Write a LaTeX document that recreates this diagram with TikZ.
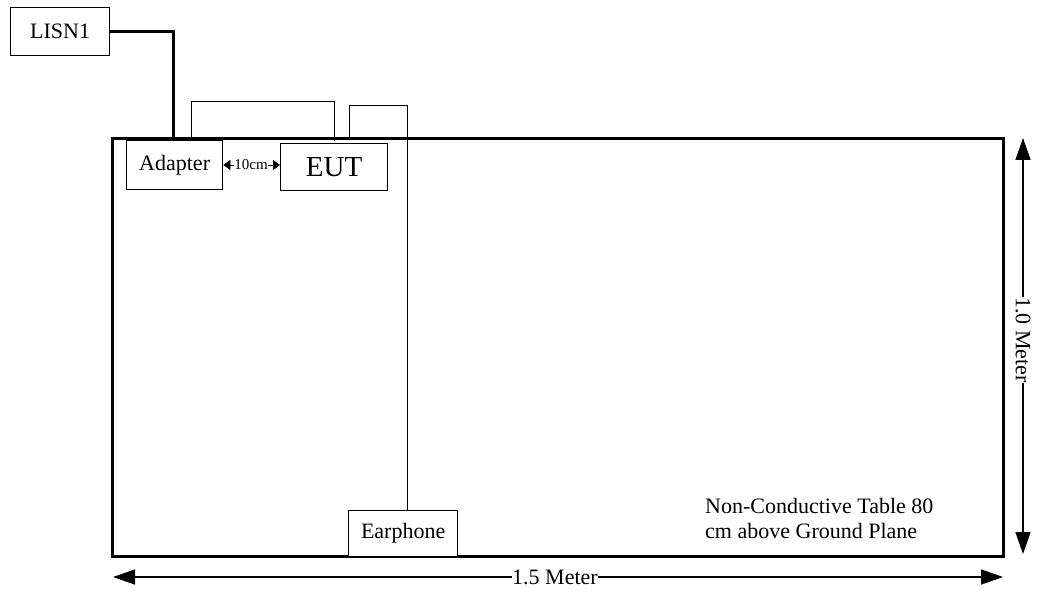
\documentclass[tikz,border=0pt]{standalone}
\usepackage{fontspec}
\setmainfont{Liberation Serif}
\usetikzlibrary{arrows.meta}
\begin{document}
\begin{tikzpicture}[x=1pt,y=-1pt,
  box/.style={draw,line width=1.3pt,inner sep=0pt,anchor=north west},
  thick wire/.style={line width=3pt},
  thin wire/.style={line width=0.9pt},
  big arrow/.style={line width=1.5pt,{Triangle[length=22pt,width=15pt]}-{Triangle[length=22pt,width=15pt]}},
  txt/.style={font=\fontsize{22}{25}\selectfont}]
\useasboundingbox (0,0) rectangle (1039,593);
% table
\draw[line width=3pt] (112,139) rectangle (1003,556);
% boxes
\node[box,minimum width=99pt,minimum height=48pt,txt] (lisn) at (10,7) {LISN1};
\node[box,minimum width=96pt,minimum height=49pt,txt,fill=white] (adapter) at (126,140) {Adapter};
\node[box,minimum width=107pt,minimum height=47pt,font=\fontsize{29}{32}\selectfont,fill=white] (eut) at (280,143) {EUT};
\node[box,minimum width=109pt,minimum height=46pt,txt,fill=white] (ear) at (348,510) {Earphone};
% LISN cable
\coordinate (c1) at (173,32);
\coordinate (c2) at (407,105);
\draw[thick wire] (lisn.east |- c1) -- (c1) -- (173,139);
% adapter-EUT cable
\draw[thin wire] (191,139) -- (191,101) -- (334,101) -- (334,141);
% earphone cable
\draw[thin wire] (349,139) -- (349,105) -- (c2) -- (c2 |- ear.north);
% 10 cm
\node[font=\fontsize{15}{17}\selectfont,inner sep=0pt] (ten) at (251,165) {10cm};
\draw[line width=0.6pt,-{Triangle[length=7pt,width=10pt]}] (ten.west) -- (adapter.east |- ten.west);
\draw[line width=0.6pt,-{Triangle[length=7pt,width=10pt]}] (ten.east) -- (eut.west |- ten.east);
% 1.5 meter
\coordinate (h1) at (113,577);
\coordinate (h2) at (1003,577);
\draw[big arrow] (h1) -- (h2);
\node[txt,fill=white,inner sep=0.5pt] (hl) at (555,577) {1.5 Meter};
% 1.0 meter
\coordinate (v1) at (1023,138);
\coordinate (v2) at (1023,554);
\draw[big arrow] (v1) -- (v2);
\node[txt,fill=white,inner sep=0.5pt,rotate=-90] (vl) at (1023,340) {1.0 Meter};
% note
\node[txt,align=left,anchor=north west,inner sep=0pt] (note) at (705,498) {Non-Conductive Table 80\\cm above Ground Plane};
\end{tikzpicture}
\end{document}
